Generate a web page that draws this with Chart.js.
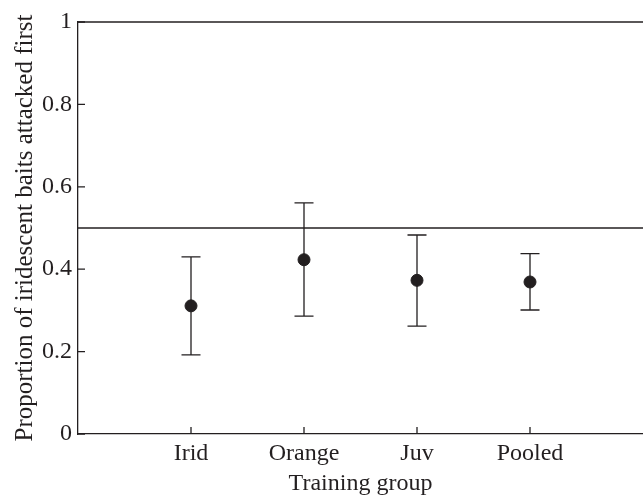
<!DOCTYPE html>
<html>
<head>
<meta charset="utf-8">
<script src="https://cdn.jsdelivr.net/npm/chart.js@4.4.1/dist/chart.umd.min.js"></script>
<style>
  html, body { margin: 0; padding: 0; background: #fff; }
  #wrap { width: 643px; height: 495px; }
</style>
</head>
<body>
<div id="wrap"><canvas id="chart" width="643" height="495"></canvas></div>
<script>
// values
const groups = ['Irid', 'Orange', 'Juv', 'Pooled'];
const means = [0.311, 0.423, 0.373, 0.369];
const upper = [0.430, 0.561, 0.483, 0.438];
const lower = [0.192, 0.286, 0.262, 0.301];
const chanceLevel = 0.5;
const yTicks = [0, 0.2, 0.4, 0.6, 0.8, 1];
const yTickLabels = ['0', '0.2', '0.4', '0.6', '0.8', '1'];

const ink = '#231f20';
const serif = '"Liberation Serif", "Times New Roman", serif';
const font = { family: serif, size: 24 };

const xPos = groups.map((g, i) => i + 1);

// error bars + inward tick marks
const extras = {
    id: 'extras',
    afterDatasetsDraw(chart) {
        const { ctx, scales: { x, y } } = chart;
        ctx.save();
        ctx.strokeStyle = ink;
        ctx.lineWidth = 1.3;
        xPos.forEach((v, i) => {
            const px = x.getPixelForValue(v);
            const top = y.getPixelForValue(upper[i]);
            const bot = y.getPixelForValue(lower[i]);
            ctx.beginPath();
            ctx.moveTo(px, top); ctx.lineTo(px, bot);
            ctx.moveTo(px - 9.5, top); ctx.lineTo(px + 9.5, top);
            ctx.moveTo(px - 9.5, bot); ctx.lineTo(px + 9.5, bot);
            ctx.stroke();
        });
        // ticks pointing into the plot
        ctx.beginPath();
        yTicks.forEach(v => {
            const py = y.getPixelForValue(v);
            ctx.moveTo(x.left, py); ctx.lineTo(x.left + 7, py);
        });
        xPos.forEach(v => {
            const px = x.getPixelForValue(v);
            ctx.moveTo(px, y.bottom); ctx.lineTo(px, y.bottom - 7);
        });
        ctx.stroke();
        ctx.restore();
    }
};

new Chart(document.getElementById('chart'), {
    type: 'scatter',
    data: {
        datasets: [
            {
                type: 'line',
                data: [{ x: 0, y: chanceLevel }, { x: 5, y: chanceLevel }],
                borderColor: ink,
                borderWidth: 1.3,
                pointRadius: 0
            },
            {
                type: 'line',
                data: [{ x: 0, y: 1 }, { x: 5, y: 1 }],
                borderColor: ink,
                borderWidth: 1.3,
                pointRadius: 0,
                clip: false
            },
            {
                data: xPos.map((v, i) => ({ x: v, y: means[i] })),
                backgroundColor: ink,
                borderColor: ink,
                pointRadius: 6,
                pointHoverRadius: 6
            }
        ]
    },
    options: {
        responsive: false,
        animation: false,
        events: [],
        layout: { autoPadding: false, padding: { top: 22, right: 0, left: 0, bottom: 0 } },
        plugins: { legend: { display: false }, tooltip: { enabled: false } },
        scales: {
            x: {
                type: 'linear',
                min: 0,
                max: 5,
                afterBuildTicks: s => { s.ticks = xPos.map(v => ({ value: v })); },
                afterFit: s => { s.height = 61; s.paddingRight = 0; s.paddingLeft = 0; },
                grid: { display: false, drawTicks: false },
                border: { display: true, color: ink, width: 1.3 },
                ticks: {
                    color: ink,
                    font: font,
                    padding: 5,
                    maxRotation: 0,
                    callback: v => groups[v - 1]
                },
                title: {
                    display: true,
                    text: 'Training group',
                    color: ink,
                    font: font,
                    padding: { top: 0, bottom: -3 }
                }
            },
            y: {
                min: 0,
                max: 1,
                afterBuildTicks: s => { s.ticks = yTicks.map(v => ({ value: v })); },
                afterFit: s => { s.width = 78; },
                grid: { display: false, drawTicks: false },
                border: { display: true, color: ink, width: 1.3 },
                ticks: {
                    color: ink,
                    font: font,
                    padding: 6,
                    callback: v => yTickLabels[yTicks.indexOf(v)]
                },
                title: {
                    display: true,
                    text: 'Proportion of iridescent baits attacked first',
                    color: ink,
                    font: { family: serif, size: 25 },
                    padding: { top: 10, bottom: 0 }
                }
            }
        }
    },
    plugins: [extras]
});
</script>
</body>
</html>
